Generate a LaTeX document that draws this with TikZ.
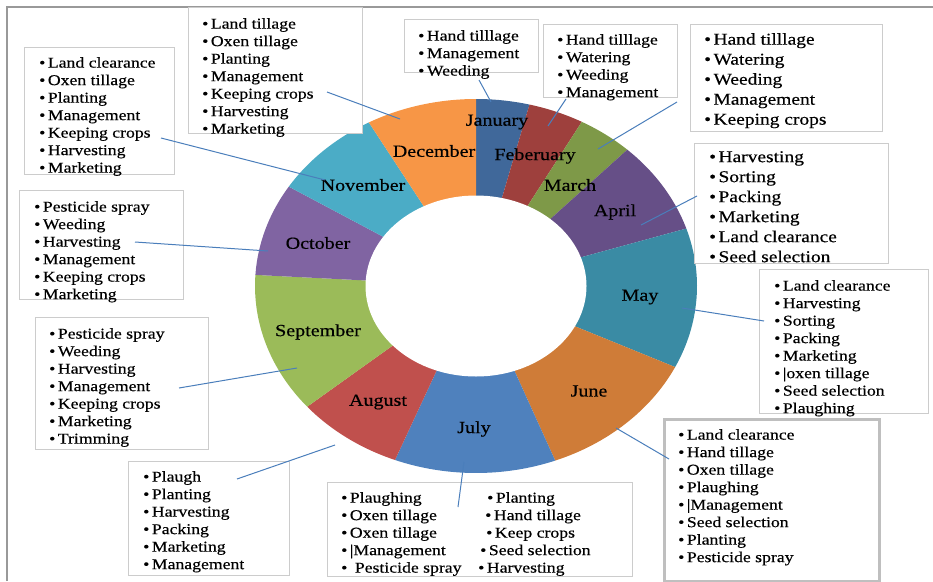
\documentclass[tikz,border=0pt]{standalone}
\usepackage{fontspec}
\setmainfont{Liberation Serif}[FakeStretch=1.18]
\newfontfamily\chartfont{Liberation Serif}[FakeStretch=1.18,FakeBold=0.4]

\definecolor{janc}{RGB}{64,104,154}
\definecolor{febc}{RGB}{158,64,61}
\definecolor{marc}{RGB}{126,153,72}
\definecolor{aprc}{RGB}{102,79,135}
\definecolor{mayc}{RGB}{58,139,164}
\definecolor{junc}{RGB}{207,124,56}
\definecolor{julc}{RGB}{79,129,189}
\definecolor{augc}{RGB}{192,80,77}
\definecolor{sepc}{RGB}{155,187,89}
\definecolor{octc}{RGB}{128,100,162}
\definecolor{novc}{RGB}{75,172,198}
\definecolor{decc}{RGB}{247,150,70}
\definecolor{callc}{RGB}{74,126,187}

\tikzset{
  listbox/.style={draw=gray!40, fill=white, line width=0.8pt, anchor=north west, inner sep=0pt},
  thickbox/.style={listbox, draw=gray!50, line width=3pt},
  listtext/.style={anchor=north west, align=left, inner sep=0pt,
    font=\chartfont\fontsize{15}{17.5}\selectfont},
  bigtext/.style={listtext, font=\chartfont\fontsize{16.5}{20}\selectfont},
  month/.style={inner sep=0pt, font=\chartfont\fontsize{17}{20}\selectfont},
  callout/.style={draw=callc, line width=1pt},
}
\newcommand{\bul}{\textbullet\hspace{2.5pt}}

\begin{document}
\begin{tikzpicture}[x=1pt,y=1pt]
\useasboundingbox (0,0) rectangle (933,-581);
\draw[gray!80, line width=1.6pt] (7,-581) -- (7,-7) -- (933,-7);

% ring
\coordinate (hub) at (476,-286);
\foreach \a/\b/\col in {90/76/janc, 76/61.4/febc, 61.4/46.8/marc, 46.8/17.9/aprc,
  17.9/-25.7/mayc, -25.7/-69/junc, -69/-111.5/julc, -111.5/-139.8/augc,
  -139.8/-183.4/sepc, -183.4/-212.1/octc, -212.1/-241/novc, -241/-270/decc}
  \fill[\col] (hub) -- ++(\a:221 and 187)
    arc[start angle=\a, end angle=\b, x radius=221, y radius=187] -- cycle;
\fill[white] (hub) ellipse[x radius=110.5, y radius=90.5];

\node[month] (jan) at (497,-122) {January};
\node[month] (feb) at (535,-156) {Feberuary};
\node[month] (mar) at (570,-185) {March};
\node[month] (apr) at (615,-212) {April};
\node[month] (may) at (640,-297) {May};
\node[month] (jun) at (589,-391) {June};
\node[month] (jul) at (474,-429) {July};
\node[month] (aug) at (378,-402) {August};
\node[month] (sep) at (318,-332) {September};
\node[month] (oct) at (318,-243) {October};
\node[month] (nov) at (363,-185) {November};
\node[month] (dec) at (434,-151) {December};

% boxes
\node[listbox, minimum width=134, minimum height=53] (janbox) at (404,-19) {};
\node[listbox, minimum width=134, minimum height=73] (febbox) at (543,-24) {};
\node[listbox, minimum width=192, minimum height=107] (marbox) at (690,-24) {};
\node[listbox, minimum width=194, minimum height=120] (aprbox) at (694,-143) {};
\node[listbox, minimum width=169, minimum height=144] (maybox) at (759,-269) {};
\node[thickbox, minimum width=215, minimum height=162] (junbox) at (663,-418) {};
\node[listbox, minimum width=305, minimum height=94] (julbox) at (327,-482) {};
\node[listbox, minimum width=161, minimum height=114] (augbox) at (128,-461) {};
\node[listbox, minimum width=173, minimum height=132] (sepbox) at (35,-317) {};
\node[listbox, minimum width=164, minimum height=109] (octbox) at (19,-190) {};
\node[listbox, minimum width=150, minimum height=127] (novbox) at (24,-47) {};
\node[listbox, minimum width=174, minimum height=126] (decbox) at (188,-7) {};

\node[listtext] (jantext) at (418,-30) {\bul Hand tilllage\\ \bul Management\\ \bul Weeding};
\node[listtext] (febtext) at (557,-34) {\bul Hand tilllage\\ \bul Watering\\ \bul Weeding\\ \bul Management};
\node[bigtext] (martext) at (704,-33) {\bul Hand tilllage\\ \bul Watering\\ \bul Weeding\\ \bul Management\\ \bul Keeping crops};
\node[bigtext] (aprtext) at (709,-151) {\bul Harvesting\\ \bul Sorting\\ \bul Packing\\ \bul Marketing\\ \bul Land clearance\\ \bul Seed selection};
\node[listtext] (maytext) at (774,-280) {\bul Land clearance\\ \bul Harvesting\\ \bul Sorting\\ \bul Packing\\ \bul Marketing\\ \bul |oxen tillage\\ \bul Seed selection\\ \bul Plaughing};
\node[listtext] (juntext) at (678,-429) {\bul Land clearance\\ \bul Hand tillage\\ \bul Oxen tillage\\ \bul Plaughing\\ \bul |Management\\ \bul Seed selection\\ \bul Planting\\ \bul Pesticide spray};
\node[listtext] (jultext) at (341,-492) {\bul Plaughing\\ \bul Oxen tillage\\ \bul Oxen tillage\\ \bul |Management\\ \bul\hspace{5pt}Pesticide spray};
\node[listtext] (jultextb) at (478,-492) {\hspace{9pt}\bul Planting\\ \hspace{7pt}\bul Hand tillage\\ \hspace{8pt}\bul Keep crops\\ \hspace{2pt}\bul Seed selection\\ \bul Harvesting};
\node[listtext] (augtext) at (143,-471) {\bul Plaugh\\ \bul Planting\\ \bul Harvesting\\ \bul Packing\\ \bul Marketing\\ \bul Management};
\node[listtext] (septext) at (49,-328) {\bul Pesticide spray\\ \bul Weeding\\ \bul Harvesting\\ \bul Management\\ \bul Keeping crops\\ \bul Marketing\\ \bul Trimming};
\node[listtext] (octtext) at (34,-201) {\bul Pesticide spray\\ \bul Weeding\\ \bul Harvesting\\ \bul Management\\ \bul Keeping crops\\ \bul Marketing};
\node[listtext] (novtext) at (39,-57) {\bul Land clearance\\ \bul Oxen tillage\\ \bul Planting\\ \bul Management\\ \bul Keeping crops\\ \bul Harvesting\\ \bul Marketing};
\node[listtext] (dectext) at (202,-18) {\bul Land tillage\\ \bul Oxen tillage\\ \bul Planting\\ \bul Management\\ \bul Keeping crops\\ \bul Harvesting\\ \bul Marketing};

% callout ends
\coordinate (janfoot) at (479,-80);  \coordinate (jantip) at (491,-102);
\coordinate (febfoot) at (566,-99);  \coordinate (febtip) at (548,-126);
\coordinate (marfoot) at (677,-102); \coordinate (martip) at (598,-149);
\coordinate (aprfoot) at (697,-196); \coordinate (aprtip) at (641,-225);
\coordinate (mayfoot) at (764,-321); \coordinate (maytip) at (682,-308);
\coordinate (junfoot) at (669,-459); \coordinate (juntip) at (616,-428);
\coordinate (julfoot) at (458,-507); \coordinate (jultip) at (464,-462);
\coordinate (augfoot) at (237,-479); \coordinate (augtip) at (335,-445);
\coordinate (sepfoot) at (179,-388); \coordinate (septip) at (297,-368);
\coordinate (octfoot) at (135,-242); \coordinate (octtip) at (268,-251);
\coordinate (novfoot) at (161,-138); \coordinate (novtip) at (325,-180);
\coordinate (decfoot) at (327,-92);  \coordinate (dectip) at (400,-119);
\foreach \m in {jan,feb,mar,apr,may,jun,jul,aug,sep,oct,nov,dec}
  \draw[callout] (\m foot) -- (\m tip);
\end{tikzpicture}
\end{document}
